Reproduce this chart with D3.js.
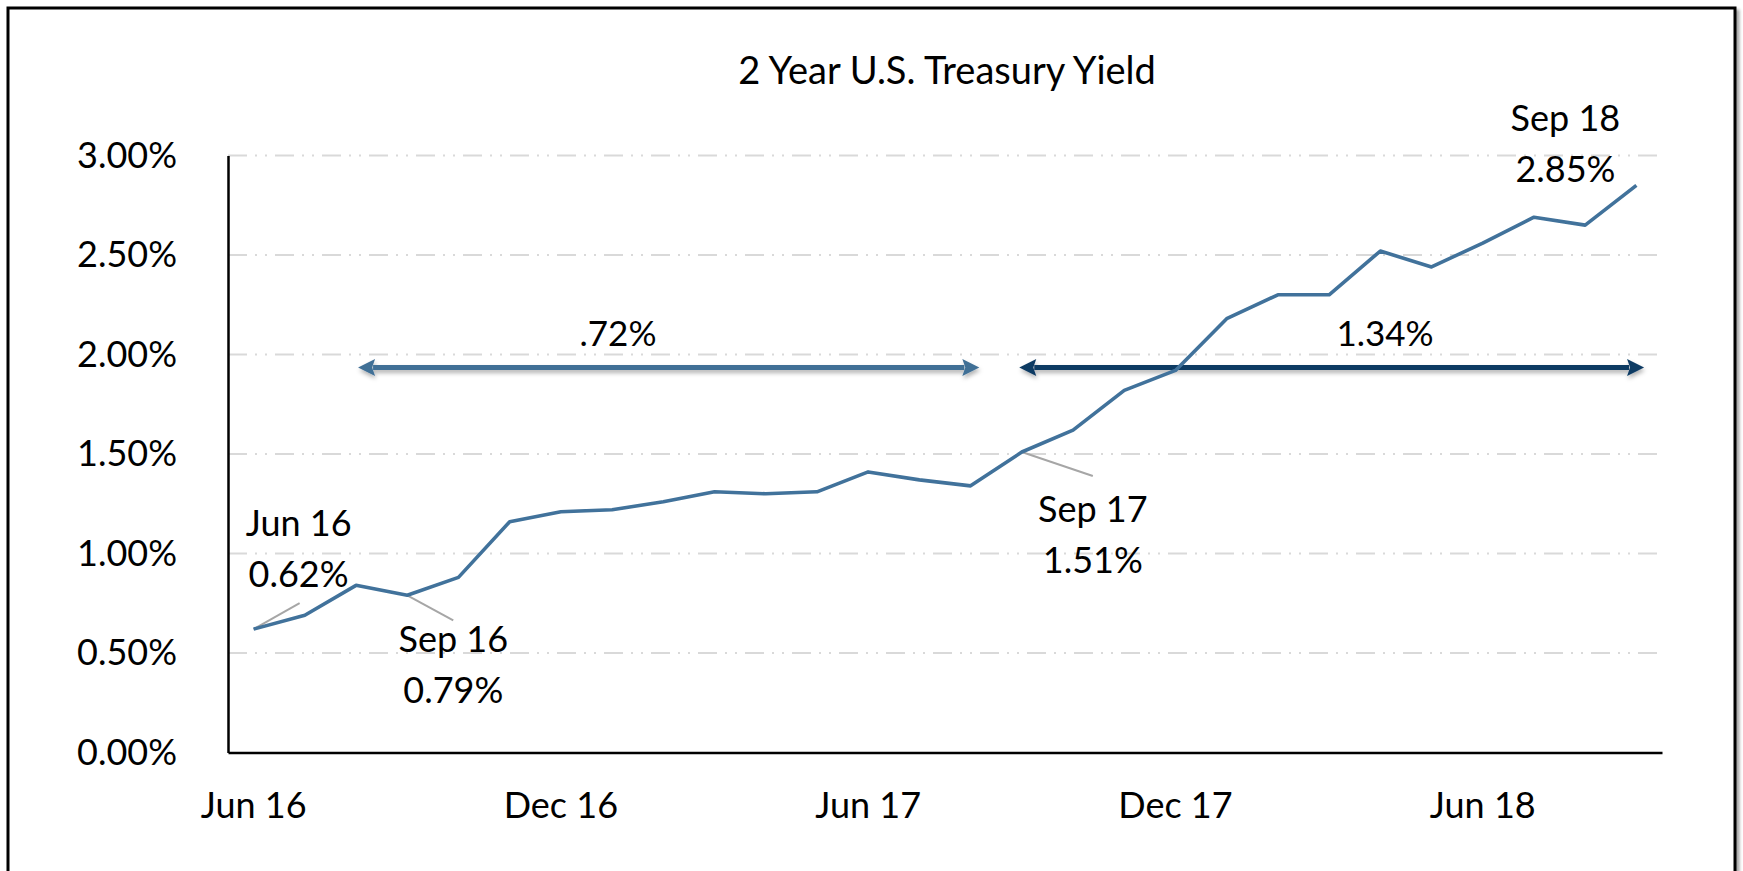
<!DOCTYPE html>
<html>
<head>
<meta charset="utf-8">
<script src="https://cdn.jsdelivr.net/npm/d3@7"></script>
<style>
  html, body { margin: 0; padding: 0; background: #fff; }
  svg { display: block; }
  text { font-family: Lato, "Open Sans", sans-serif; fill: #000; }
</style>
</head>
<body>
<svg id="chart" width="1743" height="871"></svg>
<script>
// ---- data ----
const months = ["Jun 16","Jul 16","Aug 16","Sep 16","Oct 16","Nov 16","Dec 16",
  "Jan 17","Feb 17","Mar 17","Apr 17","May 17","Jun 17","Jul 17","Aug 17","Sep 17",
  "Oct 17","Nov 17","Dec 17","Jan 18","Feb 18","Mar 18","Apr 18","May 18","Jun 18",
  "Jul 18","Aug 18","Sep 18"];
const yields = [0.62, 0.69, 0.84, 0.79, 0.88, 1.16, 1.21, 1.22, 1.26, 1.31, 1.30, 1.31,
  1.41, 1.37, 1.34, 1.51, 1.62, 1.82, 1.92, 2.18, 2.30, 2.30, 2.52, 2.44, 2.56, 2.69, 2.65, 2.85];
const xTickLabels = ["Jun 16","Dec 16","Jun 17","Dec 17","Jun 18"];
const yTicks = [0, 0.5, 1.0, 1.5, 2.0, 2.5, 3.0];
const chartTitle = "2 Year U.S. Treasury Yield";
const labelledMonths = ["Jun 16","Sep 16","Sep 17","Sep 18"];
const spanLabels = [".72%", "1.34%"];
const spanFrom = ["Aug 16", "Sep 17"];
const spanTo = ["Aug 17", "Sep 18"];
const spanLevel = 1.935;

(function () {
// ---- layout ----
const svg = d3.select("#chart");
const mLeft = 228, mRight = 1662, mTop = 155.5, mBottom = 752.5;

const x = d3.scaleBand().domain(months).range([mLeft, mRight]).padding(0);
const cx = m => x(m) + x.bandwidth() / 2;
const y = d3.scaleLinear().domain([0, 3]).range([mBottom, mTop]);

const defs = svg.append("defs");
const sh = defs.append("filter").attr("id", "shadow").attr("x", "-5%").attr("y", "-100%").attr("width", "110%").attr("height", "400%");
sh.append("feDropShadow").attr("dx", 1).attr("dy", 3).attr("stdDeviation", 2)
  .attr("flood-color", "#000").attr("flood-opacity", 0.3);
const bsh = defs.append("filter").attr("id", "bshadow").attr("x", "-2%").attr("y", "-2%").attr("width", "104%").attr("height", "104%");
bsh.append("feDropShadow").attr("dx", 3).attr("dy", 3).attr("stdDeviation", 1.5)
  .attr("flood-color", "#000").attr("flood-opacity", 0.35);

// outer border
svg.append("rect").attr("x", 8).attr("y", 8).attr("width", 1727).attr("height", 900)
  .attr("fill", "#fff").attr("stroke", "#000").attr("stroke-width", 3)
  .attr("filter", "url(#bshadow)");

// title
svg.append("text").attr("x", 947).attr("y", 84).attr("text-anchor", "middle")
  .style("font-size", "38px").text(chartTitle);

// gridlines
svg.append("g").selectAll("line").data(yTicks.filter(d => d > 0)).join("line")
  .attr("x1", mLeft).attr("x2", mRight - 2)
  .attr("y1", d => y(d)).attr("y2", d => y(d))
  .attr("stroke", "#d9d9d9").attr("stroke-width", 2)
  .attr("stroke-dasharray", "19,8,2,8,2,8");

// y axis
const yAxis = svg.append("g").attr("transform", `translate(${mLeft},0)`)
  .call(d3.axisLeft(y).tickValues(yTicks).tickSize(0).tickPadding(51)
    .tickFormat(d => d.toFixed(2) + "%"));
yAxis.select(".domain").attr("stroke", "#000").attr("stroke-width", 2.5);
yAxis.selectAll("text").style("font-size", "36px").style("font-family", "Lato, sans-serif").attr("fill", "#000");

// x axis
const xAxis = svg.append("g").attr("transform", `translate(0,${mBottom})`)
  .call(d3.axisBottom(x).tickValues(xTickLabels).tickSize(0).tickPadding(40));
xAxis.select(".domain").attr("stroke", "#000").attr("stroke-width", 2.5);
xAxis.selectAll("text").style("font-size", "36px").style("font-family", "Lato, sans-serif").attr("fill", "#000");

// span arrows
const arrowColors = ["#3f6f96", "#0c3a63"];
function arrow(g, x1, x2, yy, color) {
  const hl = 17, hw = 8.5;
  const a = g.append("g").attr("filter", "url(#shadow)");
  a.append("line").attr("x1", x1 + hl - 2).attr("x2", x2 - hl + 2).attr("y1", yy).attr("y2", yy)
    .attr("stroke", color).attr("stroke-width", 5);
  a.append("path").attr("d", `M${x1},${yy} L${x1 + hl},${yy - hw} L${x1 + hl - 3},${yy} L${x1 + hl},${yy + hw} Z`).attr("fill", color);
  a.append("path").attr("d", `M${x2},${yy} L${x2 - hl},${yy - hw} L${x2 - hl + 3},${yy} L${x2 - hl},${yy + hw} Z`).attr("fill", color);
}
const ag = svg.append("g");
spanLabels.forEach((lab, i) => {
  const bw = x.bandwidth();
  const x1 = cx(spanFrom[i]) + (i === 0 ? 0.04 * bw : -0.05 * bw);
  const x2 = cx(spanTo[i]) + (i === 0 ? 0.17 * bw : 0.15 * bw);
  arrow(ag, x1, x2, y(spanLevel), arrowColors[i]);
  ag.append("text").attr("x", i === 0 ? 618 : 1385).attr("y", y(spanLevel) - 21)
    .attr("text-anchor", "middle").style("font-size", "35px").text(lab);
});

// leader lines for data labels
const leaders = [
  {m: "Jun 16", dx: 46, dy: -26},
  {m: "Sep 16", dx: 46, dy: 25},
  {m: "Sep 17", dx: 71, dy: 24}
];
svg.append("g").selectAll("line").data(leaders).join("line")
  .attr("x1", d => cx(d.m)).attr("y1", d => y(yields[months.indexOf(d.m)]))
  .attr("x2", d => cx(d.m) + d.dx).attr("y2", d => y(yields[months.indexOf(d.m)]) + d.dy)
  .attr("stroke", "#a6a6a6").attr("stroke-width", 2);

// main line
svg.append("path").datum(yields)
  .attr("fill", "none").attr("stroke", "#41729b").attr("stroke-width", 3.6)
  .attr("stroke-linejoin", "round")
  .attr("d", d3.line().x((d, i) => cx(months[i])).y(d => y(d)));

// data labels
const labelOffsets = [
  {dx: 45, dy: -93},
  {dx: 46, dy: 57},
  {dx: 71, dy: 70},
  {dx: -71, dy: -54}
];
const lg = svg.append("g");
labelledMonths.forEach((m, i) => {
  const v = yields[months.indexOf(m)];
  const px = cx(m) + labelOffsets[i].dx, py = y(v) + labelOffsets[i].dy;
  const t = lg.append("text").attr("text-anchor", "middle").style("font-size", "36px");
  t.append("tspan").attr("x", px).attr("y", py).text(m);
  t.append("tspan").attr("x", px).attr("y", py + 51).text(v.toFixed(2) + "%");
});
})();
</script>
</body>
</html>
